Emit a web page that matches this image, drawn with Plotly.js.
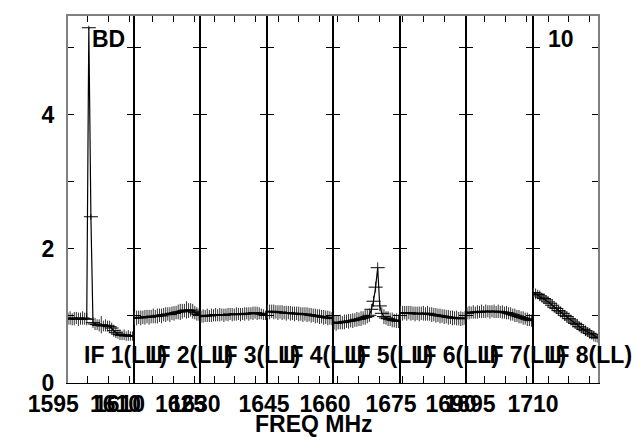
<!DOCTYPE html>
<html>
<head>
<meta charset="utf-8">
<script src="https://cdn.plot.ly/plotly-3.0.1.min.js"></script>
<style>html,body{margin:0;padding:0;background:#fff}#chart{width:640px;height:437px}</style>
</head>
<body>
<div id="chart"></div>
<script>
// ---- data ----
const ifNames = ['IF 1(LL)','IF 2(LL)','IF 3(LL)','IF 4(LL)','IF 5(LL)','IF 6(LL)','IF 7(LL)','IF 8(LL)'];
const ifStartMHz = [1594.95, 1610.31, 1626.63, 1642.23, 1658.80, 1674.16, 1690.43, 1706.27];
const ifBandMHz = 16;
const nChan = 32;
const tickLabels = [['1595','1610'],['1610','1625'],['1630'],['1645'],['1660'],['1675'],['1690','1695'],['1710']];

const if1 = [0.96,0.97,0.95,0.96,0.97,0.95,0.96,0.97,0.96,0.95,5.30,2.48,0.90,0.88,0.87,0.86,0.87,0.85,0.86,0.85,0.84,0.82,0.78,0.75,0.73,0.72,0.71,0.72,0.70,0.71,0.70,0.70];
const if2 = [0.97,0.97,0.98,0.97,0.98,0.98,0.99,0.98,0.99,1.00,0.99,1.00,1.01,1.00,1.02,1.02,1.03,1.02,1.04,1.04,1.05,1.06,1.06,1.07,1.08,1.09,1.08,1.09,1.07,1.05,1.03,1.02];
const if3 = [0.99,1.00,1.00,1.01,1.00,1.01,1.01,1.02,1.01,1.02,1.02,1.01,1.02,1.02,1.03,1.02,1.02,1.03,1.03,1.02,1.03,1.03,1.04,1.03,1.04,1.04,1.05,1.04,1.04,1.03,1.02,1.01];
const if4 = [1.07,1.06,1.07,1.06,1.06,1.05,1.06,1.05,1.05,1.04,1.05,1.04,1.04,1.03,1.04,1.03,1.03,1.02,1.03,1.02,1.02,1.01,1.01,1.00,1.00,0.99,0.99,0.98,0.98,0.97,0.97,0.96];
const if5 = [0.90,0.89,0.90,0.91,0.90,0.91,0.92,0.92,0.93,0.93,0.94,0.95,0.95,0.96,0.97,0.98,0.99,1.01,1.10,1.22,1.43,1.72,1.15,1.04,0.99,0.97,0.96,0.95,0.94,0.93,0.93,0.92];
const if6 = [1.05,1.04,1.05,1.04,1.05,1.04,1.04,1.03,1.04,1.03,1.04,1.04,1.03,1.04,1.03,1.02,1.02,1.01,1.01,1.00,1.00,0.99,0.99,0.98,0.98,0.97,0.97,0.97,0.96,0.96,0.96,0.97];
const if7 = [1.04,1.05,1.05,1.06,1.05,1.06,1.06,1.07,1.06,1.07,1.07,1.06,1.07,1.07,1.06,1.07,1.06,1.06,1.05,1.05,1.04,1.03,1.02,1.01,1.00,0.99,0.98,0.97,0.96,0.95,0.94,0.93];
const if8 = [1.35,1.33,1.32,1.30,1.28,1.26,1.24,1.21,1.19,1.16,1.13,1.11,1.08,1.06,1.04,1.01,0.99,0.96,0.94,0.91,0.89,0.87,0.84,0.82,0.80,0.78,0.76,0.74,0.72,0.70,0.68,0.67];

const err1 = [0.09,0.10,0.09,0.10,0.09,0.10,0.09,0.10,0.09,0.09,0.03,0.04,0.08,0.09,0.08,0.09,0.13,0.08,0.09,0.08,0.09,0.08,0.09,0.08,0.07,0.08,0.07,0.08,0.07,0.08,0.07,0.07];
const err2 = [0.10,0.11,0.10,0.11,0.10,0.11,0.10,0.11,0.10,0.11,0.10,0.11,0.10,0.11,0.10,0.11,0.10,0.11,0.10,0.11,0.10,0.11,0.12,0.11,0.10,0.13,0.11,0.10,0.11,0.10,0.10,0.09];
const err3 = [0.09,0.10,0.09,0.10,0.09,0.10,0.09,0.10,0.09,0.10,0.09,0.10,0.09,0.10,0.09,0.10,0.09,0.10,0.09,0.10,0.09,0.10,0.09,0.10,0.09,0.10,0.09,0.10,0.09,0.08,0.08,0.07];
const err4 = [0.10,0.11,0.10,0.11,0.10,0.11,0.10,0.11,0.10,0.11,0.10,0.11,0.10,0.11,0.10,0.11,0.10,0.11,0.10,0.11,0.10,0.11,0.10,0.11,0.10,0.11,0.10,0.11,0.10,0.11,0.10,0.10];
const err5 = [0.10,0.11,0.10,0.11,0.10,0.11,0.10,0.11,0.10,0.11,0.10,0.11,0.10,0.11,0.10,0.11,0.10,0.10,0.08,0.08,0.08,0.08,0.08,0.09,0.11,0.10,0.11,0.10,0.11,0.10,0.11,0.10];
const err6 = [0.10,0.11,0.10,0.11,0.10,0.11,0.10,0.11,0.10,0.11,0.10,0.11,0.10,0.11,0.10,0.11,0.10,0.11,0.10,0.11,0.10,0.11,0.10,0.11,0.10,0.11,0.10,0.11,0.10,0.11,0.10,0.10];
const err7 = [0.09,0.10,0.09,0.10,0.09,0.10,0.09,0.10,0.09,0.10,0.09,0.10,0.09,0.10,0.09,0.10,0.09,0.10,0.09,0.10,0.09,0.10,0.09,0.10,0.09,0.10,0.09,0.10,0.09,0.10,0.09,0.09];
const err8 = [0.07,0.08,0.07,0.08,0.07,0.08,0.07,0.08,0.07,0.08,0.07,0.08,0.07,0.08,0.07,0.08,0.07,0.08,0.07,0.08,0.07,0.08,0.07,0.08,0.07,0.08,0.07,0.08,0.07,0.08,0.07,0.07];

const ifValues = [if1,if2,if3,if4,if5,if6,if7,if8];
const ifErrors = [err1,err2,err3,err4,err5,err6,err7,err8];

// ---- build ----
const FONT = 'Liberation Sans, Arial, Helvetica, sans-serif';
const FS = 23;
const nIF = ifValues.length;
const traces = [];
const layout = {
  width: 640, height: 437,
  margin: {l: 67, r: 41, t: 15, b: 54, pad: 0},
  paper_bgcolor: '#ffffff', plot_bgcolor: '#ffffff',
  showlegend: false,
  annotations: [], shapes: []
};
const labelShift = [-14,-14,-19,-14,-13,-12,-15,-15];

for (let i = 0; i < nIF; i++) {
  const n = i + 1;
  const xs = ifValues[i].map((_, k) => ifStartMHz[i] + (k + 0.5) * ifBandMHz / nChan);
  const xa = n === 1 ? 'x' : 'x' + n;
  const ya = n === 1 ? 'y' : 'y' + n;
  traces.push({
    type: 'scatter', mode: 'lines+markers', x: xs, y: ifValues[i],
    xaxis: xa, yaxis: ya,
    line: {color: '#000', width: 1.2},
    marker: {symbol: 'line-ew', size: 10, color: '#000', line: {color: '#000', width: 1}},
    error_y: {type: 'data', array: ifErrors[i], visible: true, color: '#333', thickness: 1, width: 0},
    hoverinfo: 'skip'
  });
  // ticks
  const lo = ifStartMHz[i], hi = lo + ifBandMHz;
  const vals = [], txt = [];
  for (let m = Math.ceil(lo / 5) * 5; m < hi; m += 5) { vals.push(m); txt.push(''); }
  tickLabels[i].forEach(L => {
    const v = Math.max(parseFloat(L), lo + 0.001);
    const j = vals.findIndex(t => Math.abs(t - v) < 0.01);
    if (j >= 0) txt[j] = L; else { vals.push(v); txt.push(L); }
  });
  const xkey = n === 1 ? 'xaxis' : 'xaxis' + n;
  const ykey = n === 1 ? 'yaxis' : 'yaxis' + n;
  layout[xkey] = {
    domain: [i / nIF, (i + 1) / nIF], range: [lo, hi], anchor: ya,
    showgrid: false, zeroline: false, showline: true, linecolor: '#000', linewidth: 1,
    mirror: 'ticks', ticks: 'inside', ticklen: 7, tickcolor: '#000', tickwidth: 1,
    tickmode: 'array', tickvals: vals, ticktext: txt, tickangle: 0,
    ticklabelshift: labelShift[i], ticklabelstandoff: 0,
    tickfont: {family: FONT, size: FS, color: '#000', weight: 'bold'}
  };
  layout[ykey] = {
    domain: [0, 1], range: [0, 5.49], anchor: xa,
    showgrid: false, zeroline: false, showline: true, linecolor: '#000', linewidth: 1,
    mirror: 'ticks', ticks: 'inside', ticklen: 7, tickcolor: '#000', tickwidth: 1,
    tickmode: 'array', tickvals: [0,1,2,3,4,5], ticktext: ['0','','2','','4',''],
    showticklabels: n === 1, ticklabelstandoff: 7,
    tickfont: {family: FONT, size: FS, color: '#000', weight: 'bold'}
  };
  layout.annotations.push({
    text: ifNames[i], xref: xa + ' domain', yref: 'paper', x: 0.22, y: 0.076,
    xanchor: 'left', yanchor: 'middle', showarrow: false,
    font: {family: FONT, size: FS, color: '#000', weight: 'bold'}
  });
}
layout.annotations.push({text: 'BD', xref: 'x domain', yref: 'paper', x: 0.35, y: 0.935,
  xanchor: 'left', yanchor: 'middle', showarrow: false, font: {family: FONT, size: FS, color: '#000', weight: 'bold'}});
layout.annotations.push({text: '10', xref: 'x8 domain', yref: 'paper', x: 0.21, y: 0.935,
  xanchor: 'left', yanchor: 'middle', showarrow: false, font: {family: FONT, size: FS, color: '#000', weight: 'bold'}});
layout.annotations.push({text: 'FREQ MHz', xref: 'paper', yref: 'paper', x: 0.464, y: -0.111,
  xanchor: 'center', yanchor: 'middle', showarrow: false, font: {family: FONT, size: FS, color: '#000', weight: 'bold'}});
layout.shapes.push({type: 'path', xref: 'paper', yref: 'paper', path: 'M0,0 L0,1 L1,1 L1,0',
  line: {color: '#808080', width: 2}, layer: 'above'});

Plotly.newPlot('chart', traces, layout, {staticPlot: true, displayModeBar: false});
</script>
</body>
</html>
